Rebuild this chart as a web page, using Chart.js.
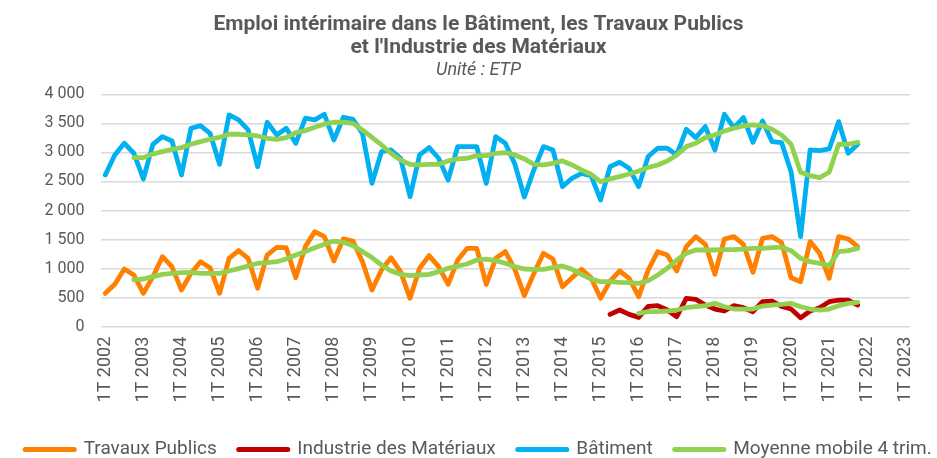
<!DOCTYPE html>
<html>
<head>
<meta charset="utf-8">
<script src="https://cdn.jsdelivr.net/npm/chart.js@4/dist/chart.umd.min.js"></script>
<style>
  html, body { margin: 0; padding: 0; background: #ffffff; }
  #wrap { width: 937px; height: 458px; }
</style>
</head>
<body>
<div id="wrap"><canvas id="c" width="937" height="458"></canvas></div>
<script>
const categories = [
  "1T 2002","2T 2002","3T 2002","4T 2002","1T 2003","2T 2003","3T 2003","4T 2003",
  "1T 2004","2T 2004","3T 2004","4T 2004","1T 2005","2T 2005","3T 2005","4T 2005",
  "1T 2006","2T 2006","3T 2006","4T 2006","1T 2007","2T 2007","3T 2007","4T 2007",
  "1T 2008","2T 2008","3T 2008","4T 2008","1T 2009","2T 2009","3T 2009","4T 2009",
  "1T 2010","2T 2010","3T 2010","4T 2010","1T 2011","2T 2011","3T 2011","4T 2011",
  "1T 2012","2T 2012","3T 2012","4T 2012","1T 2013","2T 2013","3T 2013","4T 2013",
  "1T 2014","2T 2014","3T 2014","4T 2014","1T 2015","2T 2015","3T 2015","4T 2015",
  "1T 2016","2T 2016","3T 2016","4T 2016","1T 2017","2T 2017","3T 2017","4T 2017",
  "1T 2018","2T 2018","3T 2018","4T 2018","1T 2019","2T 2019","3T 2019","4T 2019",
  "1T 2020","2T 2020","3T 2020","4T 2020","1T 2021","2T 2021","3T 2021","4T 2021",
  "1T 2022","2T 2022","3T 2022","4T 2022","1T 2023"
];

const travauxPublics = [
  574, 729, 993, 890, 574, 861, 1205, 1033, 631, 918, 1119, 1016, 574, 1177, 1310, 1177,
  660, 1234, 1366, 1360, 844, 1378, 1636, 1550, 1131, 1510, 1475, 1119, 631, 976, 1188, 947,
  488, 1005, 1223, 1033, 729, 1148, 1349, 1349, 729, 1177, 1292, 987, 534, 918, 1263, 1165,
  689, 844, 987, 844, 488, 786, 959, 832, 517, 976, 1291, 1234, 959, 1378, 1550, 1418,
  901, 1510, 1550, 1418, 936, 1521, 1550, 1450, 844, 775, 1464, 1263, 832, 1550, 1510, 1378,
  null, null, null, null, null
];

const industrieMateriaux = [
  null, null, null, null, null, null, null, null, null, null, null, null, null, null, null, null,
  null, null, null, null, null, null, null, null, null, null, null, null, null, null, null, null,
  null, null, null, null, null, null, null, null, null, null, null, null, null, null, null, null,
  null, null, null, null, null, 212, 287, 212, 161, 350, 362, 287, 172, 488, 471, 373,
  304, 270, 362, 327, 258, 431, 442, 350, 304, 155, 270, 327, 431, 459, 459, 373,
  null, null, null, null, null
];

const batiment = [
  2612, 2956, 3157, 2985, 2543, 3140, 3272, 3197, 2612, 3415, 3461, 3329, 2795, 3645, 3559, 3387,
  2755, 3519, 3301, 3415, 3157, 3588, 3559, 3656, 3214, 3605, 3570, 3329, 2468, 3014, 3042, 2899,
  2239, 2956, 3082, 2899, 2526, 3100, 3100, 3100, 2468, 3272, 3157, 2800, 2232, 2700, 3100, 3042,
  2411, 2554, 2640, 2600, 2181, 2755, 2830, 2727, 2411, 2930, 3071, 3071, 2956, 3398, 3255, 3444,
  3042, 3656, 3427, 3599, 3174, 3542, 3186, 3170, 2669, 1550, 3042, 3031, 3059, 3530, 2985, 3140,
  null, null, null, null, null
];

const moyTravauxPublics = [
  null, null, null, 804, 821, 861, 901, 918, 930, 936, 918, 918, 918, 959, 1000, 1045,
  1091, 1102, 1119, 1165, 1234, 1292, 1360, 1418, 1475, 1452, 1395, 1292, 1190, 1062, 959, 901,
  878, 890, 901, 947, 1005, 1045, 1079, 1148, 1165, 1137, 1091, 1033, 993, 987, 987, 1016,
  1045, 987, 901, 821, 775, 775, 763, 758, 746, 790, 890, 1005, 1148, 1263, 1320, 1320,
  1320, 1326, 1326, 1337, 1349, 1349, 1360, 1370, 1309, 1177, 1119, 1091, 1050, 1292, 1309, 1349,
  null, null, null, null, null
];

const moyIndustrieMateriaux = [
  null, null, null, null, null, null, null, null, null, null, null, null, null, null, null, null,
  null, null, null, null, null, null, null, null, null, null, null, null, null, null, null, null,
  null, null, null, null, null, null, null, null, null, null, null, null, null, null, null, null,
  null, null, null, null, null, null, null, null, 230, 258, 258, 270, 287, 327, 344, 362,
  402, 344, 304, 304, 304, 356, 373, 385, 402, 344, 304, 287, 304, 362, 402, 419,
  null, null, null, null, null
];

const moyBatiment = [
  null, null, null, 2910, 2910, 2973, 3014, 3054, 3082, 3140, 3186, 3226, 3260, 3312, 3312, 3300,
  3283, 3243, 3226, 3255, 3341, 3375, 3433, 3490, 3519, 3519, 3501, 3387, 3260, 3128, 2985, 2870,
  2795, 2784, 2795, 2795, 2853, 2887, 2899, 2945, 2945, 2985, 2996, 2956, 2887, 2795, 2784, 2813,
  2853, 2784, 2698, 2623, 2497, 2543, 2583, 2629, 2681, 2740, 2784, 2853, 2956, 3100, 3157, 3255,
  3300, 3369, 3415, 3455, 3473, 3461, 3398, 3300, 3140, 2658, 2600, 2566, 2658, 3140, 3140, 3174,
  null, null, null, null, null
];

const yTickValues = [0, 500, 1000, 1500, 2000, 2500, 3000, 3500, 4000];
const yTickLabels = ["0", "500", "1 000", "1 500", "2 000", "2 500", "3 000", "3 500", "4 000"];

const titleLines = ["Emploi intérimaire dans le Bâtiment, les Travaux Publics", "et l'Industrie des Matériaux"];
const subtitleText = "Unité : ETP";
const legendLabels = ["Travaux Publics", "Industrie des Matériaux", "Bâtiment", "Moyenne mobile 4 trim."];

const C_TP = "#FF8000";
const C_IND = "#C00000";
const C_BAT = "#00B0F0";
const C_MA = "#92D050";
const TXT = "#595959";
const GRID = "#D9D9D9";

function lineDs(label, data, color, order) {
  return {
    label: label,
    data: data,
    borderColor: color,
    backgroundColor: color,
    borderWidth: 4.8,
    pointRadius: 0,
    pointHoverRadius: 0,
    tension: 0,
    fill: false,
    spanGaps: false,
    borderJoinStyle: "round",
    borderCapStyle: "round",
    order: order
  };
}

const datasets = [
  lineDs(legendLabels[0], travauxPublics, C_TP, 2),
  lineDs(legendLabels[1], industrieMateriaux, C_IND, 2),
  lineDs(legendLabels[2], batiment, C_BAT, 2),
  lineDs(legendLabels[3], moyTravauxPublics, C_MA, 1),
  lineDs(legendLabels[3] + " IM", moyIndustrieMateriaux, C_MA, 1),
  lineDs(legendLabels[3] + " B", moyBatiment, C_MA, 1)
];

const legendColors = [C_TP, C_IND, C_BAT, C_MA];

new Chart(document.getElementById("c"), {
  type: "line",
  data: { labels: categories, datasets: datasets },
  options: {
    responsive: false,
    devicePixelRatio: 1,
    animation: false,
    events: [],
    layout: { padding: { left: 0, right: -20, top: 0, bottom: 0 } },
    plugins: {
      tooltip: { enabled: false },
      title: {
        display: true,
        text: titleLines,
        color: TXT,
        font: { family: "Roboto", size: 21, weight: "bold", lineHeight: "23px" },
        padding: { top: 13, bottom: 0 }
      },
      subtitle: {
        display: true,
        text: subtitleText,
        color: TXT,
        font: { family: "Roboto", size: 18, style: "italic", weight: "normal", lineHeight: "20px" },
        padding: { top: 1, bottom: 14.3 }
      },
      legend: {
        display: true,
        position: "bottom",
        maxHeight: 40,
        labels: {
          color: TXT,
          font: { family: "Roboto", size: 19 },
          usePointStyle: true,
          pointStyleWidth: 49,
          padding: 22,
          generateLabels: function (chart) {
            return legendLabels.map(function (t, i) {
              return {
                text: t,
                fillStyle: legendColors[i],
                strokeStyle: legendColors[i],
                lineWidth: 5,
                lineCap: "round",
                pointStyle: "line",
                fontColor: TXT,
                hidden: false,
                datasetIndex: i
              };
            });
          }
        }
      }
    },
    scales: {
      x: {
        type: "category",
        offset: true,
        grid: { display: false, drawTicks: false },
        border: { display: false },
        ticks: {
          autoSkip: false,
          maxRotation: 90,
          minRotation: 90,
          padding: 10,
          color: TXT,
          font: { family: "Roboto", size: 18 },
          callback: function (v, i) {
            const c = categories[i];
            return c.indexOf("1T") === 0 ? c : "";
          }
        },
        afterFit: function (s) { s.height = 91.3; }
      },
      y: {
        min: 0,
        max: 4000,
        afterBuildTicks: function (s) { s.ticks = yTickValues.map(function (v) { return { value: v }; }); },
        grid: { color: GRID, lineWidth: 1.5, drawTicks: false },
        border: { display: false },
        ticks: {
          padding: 16,
          color: TXT,
          font: { family: "Roboto", size: 16 },
          callback: function (v) { return yTickLabels[yTickValues.indexOf(v)]; }
        },
        afterFit: function (s) { s.width = 100.5; }
      },
      yRightSpace: {
        type: "linear",
        position: "right",
        display: true,
        grid: { display: false, drawTicks: false },
        border: { display: false },
        ticks: { display: false },
        afterFit: function (s) { s.width = 26; }
      }
    }
  }
});
</script>
</body>
</html>
